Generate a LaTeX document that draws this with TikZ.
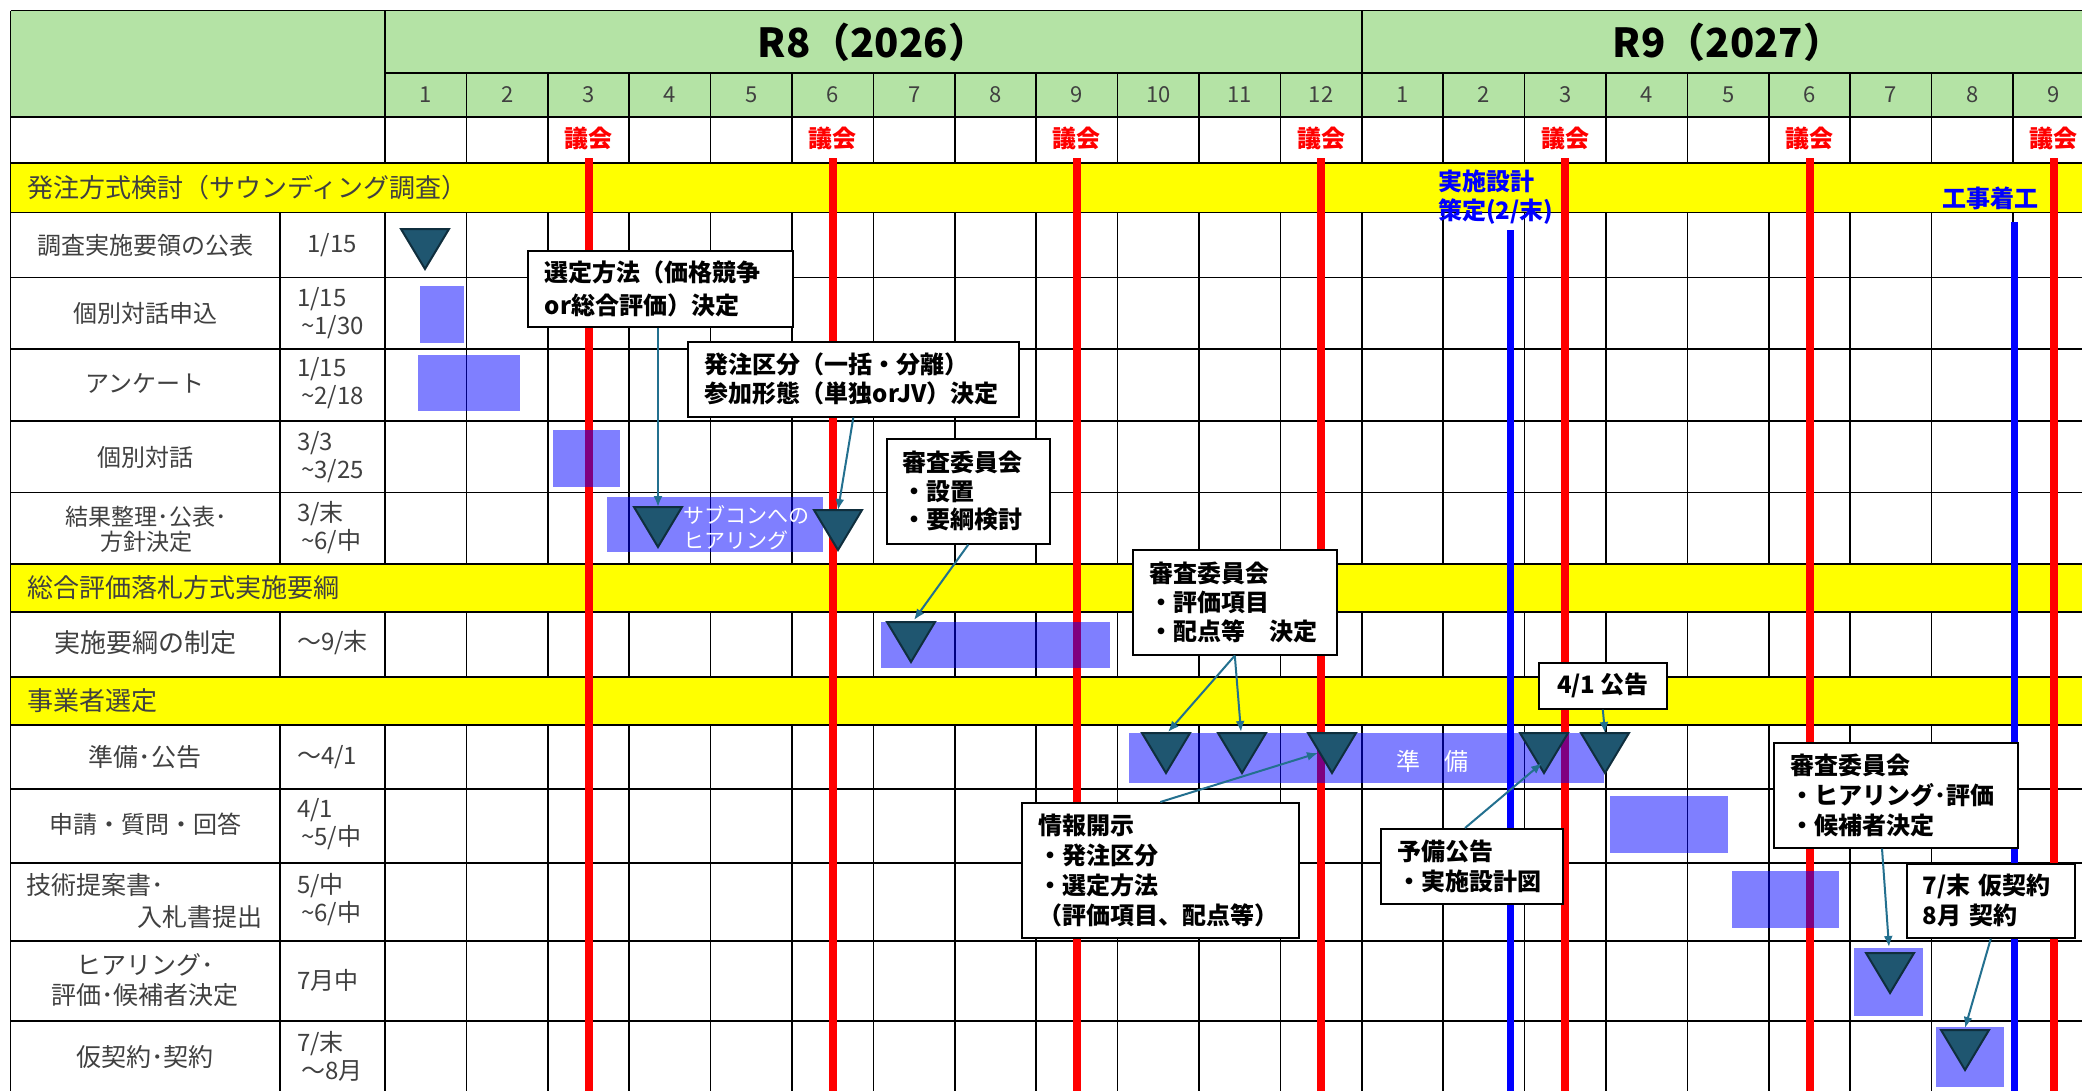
\documentclass[tikz,border=0pt]{standalone}
\usepackage{fontspec}
\setmainfont{Noto Sans CJK JP}
\usetikzlibrary{arrows.meta,calc}
\definecolor{hdrgreen}{HTML}{B4E3A5}
\definecolor{secyellow}{HTML}{FFFF00}
\definecolor{tricol}{HTML}{1F5670}
\definecolor{triedge}{HTML}{0F2E3D}
\definecolor{arrcol}{HTML}{23708F}
\definecolor{txtgray}{HTML}{404040}
\definecolor{barblue}{HTML}{0000FF}
\newcommand\mytri[3]{\coordinate (#1) at (#2,#3);
  \draw[tristyle] ($(#1)+(-24,0)$) -- ($(#1)+(24,0)$) -- ($(#1)+(0,40)$) -- cycle;}
\begin{document}
\begin{tikzpicture}[x=1pt,y=-1pt,
  gridline/.style={line width=1.6pt,black},
  redline/.style={line width=8pt,red},
  blueline/.style={line width=7pt,barblue},
  barfill/.style={fill=barblue,fill opacity=0.5},
  tristyle/.style={fill=tricol,draw=triedge,line width=2pt,line join=miter},
  callout/.style={draw=black,fill=white,line width=1.6pt,anchor=north west,align=left,
    inner xsep=17pt,inner ysep=0pt,font=\bfseries\fontsize{24pt}{30pt}\selectfont},
  callarrow/.style={draw=arrcol,line width=2pt,-{Latex[length=11pt,width=9pt]}},
  itemtxt/.style={text=txtgray,align=center,font=\fontsize{24pt}{30pt}\selectfont,inner sep=0pt},
  datetxt/.style={text=txtgray,align=left,anchor=west,font=\fontsize{24pt}{28pt}\selectfont,inner sep=0pt},
  sectxt/.style={text=txtgray,anchor=west,font=\fontsize{26pt}{30pt}\selectfont,inner sep=0pt},
  monthtxt/.style={text=txtgray,font=\fontsize{22pt}{26pt}\selectfont,inner sep=0pt},
  yeartxt/.style={font=\bfseries\fontsize{40pt}{44pt}\selectfont,inner sep=0pt},
  gikaitxt/.style={text=red,font=\bfseries\fontsize{24pt}{28pt}\selectfont,inner sep=0pt},
  bluetxt/.style={text=barblue,font=\bfseries\fontsize{24pt}{29pt}\selectfont,inner sep=0pt,align=left},
  whitetxt/.style={text=white,font=\fontsize{24pt}{25pt}\selectfont,inner sep=0pt,align=left}]
\useasboundingbox (0,0) rectangle (2082,1090);
\clip (0,0) rectangle (2082,1090);
\fill[white] (0,0) rectangle (2082,1090);
% fills
\fill[hdrgreen] (10.6,10.6) rectangle (2100,117);
\fill[secyellow] (10.6,163) rectangle (2100,212.5);
\fill[secyellow] (10.6,564) rectangle (2100,612);
\fill[secyellow] (10.6,677) rectangle (2100,725);
% grid
\begin{scope}[gridline]
\foreach \y in {10.6,117,163,212.5,277.5,349,421,492.6,564,612,677,725,789,863,941,1021}
  \draw (10.6,\y) -- (2100,\y);
\draw (385,73) -- (2100,73);
\draw (10.6,10.6) -- (10.6,1100);
\draw (385,10.6) -- (385,163);
\draw (1361.8,10.6) -- (1361.8,73);
\foreach \k in {1,...,21} \draw ({385+81.4*\k},73) -- ({385+81.4*\k},163);
\foreach \ya/\yb in {212.5/564,612/677,725/1100} {
  \draw (280,\ya) -- (280,\yb);
  \foreach \k in {0,...,21} \draw ({385+81.4*\k},\ya) -- ({385+81.4*\k},\yb);
}
\end{scope}
% council lines
\foreach \k in {2,5,8,11,14,17,20}
  \draw[redline] ({385+81.4*\k+40.7},158) -- ({385+81.4*\k+40.7},1100);
% blue milestone lines
\coordinate (bl1) at (1510,230);
\coordinate (bl2) at (2014,222);
\draw[blueline] (bl1) -- (1510,1100);
\draw[blueline] (bl2) -- (2014,1100);
% bars
\fill[barfill] (420,286) rectangle (464,343);
\fill[barfill] (418,355) rectangle (520,411);
\fill[barfill] (553,430) rectangle (620,487);
\fill[barfill] (607,497) rectangle (823,552);
\fill[barfill] (881,622) rectangle (1110,668);
\fill[barfill] (1129,733) rectangle (1604,783);
\fill[barfill] (1610,796) rectangle (1728,853);
\fill[barfill] (1732,871) rectangle (1839,928);
\fill[barfill] (1854,948) rectangle (1923,1016);
\fill[barfill] (1936,1027) rectangle (2004,1087);
% triangles
\mytri{t1}{425}{229}
\mytri{t2}{658}{507}
\mytri{t3}{838}{510}
\mytri{t4}{911}{622}
\mytri{t5}{1166}{733}
\mytri{t6}{1242}{733}
\mytri{t7}{1332}{733}
\mytri{t8}{1544}{733}
\mytri{t9}{1605}{733}
\mytri{t10}{1890}{953}
\mytri{t11}{1965}{1030}
% header texts
\node[yeartxt] (y8) at (873,42) {R8（2026）};
\node[yeartxt] (y9) at (1728,42) {R9（2027）};
\foreach \k/\m in {0/1,1/2,2/3,3/4,4/5,5/6,6/7,7/8,8/9,9/10,10/11,11/12,12/1,13/2,14/3,15/4,16/5,17/6,18/7,19/8,20/9}
  \node[monthtxt] (m\k) at ({385+81.4*\k+40.7},95) {\m};
\foreach \k in {2,5,8,11,14,17,20}
  \node[gikaitxt] (g\k) at ({385+81.4*\k+40.7},138) {議会};
% section labels
\node[sectxt] (s1) at (27,188) {発注方式検討（サウンディング調査）};
\node[sectxt] (s2) at (27,588) {総合評価落札方式実施要綱};
\node[sectxt] (s3) at (27,701) {事業者選定};
% item labels
\node[itemtxt] (i1) at (145,245) {調査実施要領の公表};
\node[itemtxt] (i2) at (145,313) {個別対話申込};
\node[itemtxt] (i3) at (145,383) {アンケート};
\node[itemtxt] (i4) at (145,457) {個別対話};
\node[itemtxt,font=\fontsize{23pt}{25pt}\selectfont] (i5) at (146,529) {結果整理･公表･\\方針決定};
\node[itemtxt,font=\fontsize{26pt}{30pt}\selectfont] (i6) at (145,643) {実施要綱の制定};
\node[itemtxt,font=\fontsize{25pt}{30pt}\selectfont] (i7) at (145,757) {準備･公告};
\node[itemtxt] (i8) at (145,824) {申請・質問・回答};
\node[itemtxt,font=\fontsize{25pt}{30pt}\selectfont,anchor=west] (i9a) at (26,885) {技術提案書･};
\node[itemtxt,font=\fontsize{25pt}{30pt}\selectfont,anchor=east] (i9b) at (263,917) {入札書提出};
\node[itemtxt,font=\fontsize{25pt}{30pt}\selectfont] (i10) at (145,980) {ヒアリング･\\評価･候補者決定};
\node[itemtxt,font=\fontsize{25pt}{30pt}\selectfont] (i11) at (145,1057) {仮契約･契約};
% dates
\node[datetxt,anchor=center] (d1) at (332,245) {1/15};
\node[datetxt] (d2) at (297,313) {1/15\\\hspace{4pt}\textasciitilde1/30};
\node[datetxt] (d3) at (297,383.5) {1/15\\\hspace{4pt}\textasciitilde2/18};
\node[datetxt] (d4) at (297,457) {3/3\\\hspace{4pt}\textasciitilde3/25};
\node[datetxt] (d5) at (297,528) {3/末\\\hspace{4pt}\textasciitilde6/中};
\node[datetxt] (d6) at (297,643) {～9/末};
\node[datetxt] (d7) at (297,757) {～4/1};
\node[datetxt] (d8) at (297,824.5) {4/1\\\hspace{4pt}\textasciitilde5/中};
\node[datetxt] (d9) at (297,899.5) {5/中\\\hspace{4pt}\textasciitilde6/中};
\node[datetxt] (d10) at (297,980) {7月中};
\node[datetxt] (d11) at (297,1056.5) {7/末\\\hspace{4pt}～8月};
% blue labels
\node[bluetxt,anchor=west] (bt1) at (1438,197.5) {実施設計\\策定(2/末)};
\node[bluetxt] (bt2) at (1990,198) {工事着工};
% white labels on bars
\node[whitetxt] (w1) at (1432,761) {準　備};
\node[whitetxt,anchor=west,font=\fontsize{21pt}{25pt}\selectfont] (w2) at (683,527.5) {サブコンへの\\ヒアリング};
% callouts
\node[callout,minimum width=265pt,minimum height=76pt,text width=231pt,font=\bfseries\fontsize{24pt}{33pt}\selectfont] (b1) at (527,250) {選定方法（価格競争\\or総合評価）決定};
\node[callout,minimum width=331pt,minimum height=75pt,text width=297pt,font=\bfseries\fontsize{24pt}{29pt}\selectfont] (b2) at (687,341) {発注区分（一括・分離）\\参加形態（単独orJV）決定};
\node[callout,inner xsep=16pt,minimum width=163pt,minimum height=105pt,text width=131pt,font=\bfseries\fontsize{24pt}{28.5pt}\selectfont] (b3) at (886,438) {審査委員会\\・設置\\・要綱検討};
\node[callout,minimum width=204pt,minimum height=105pt,text width=170pt,font=\bfseries\fontsize{24pt}{29pt}\selectfont] (b4) at (1132,549) {審査委員会\\・評価項目\\・配点等　決定};
\node[callout,minimum width=277pt,minimum height=135pt,text width=243pt] (b5) at (1021,802) {情報開示\\・発注区分\\・選定方法\\（評価項目、配点等）};
\node[callout,minimum width=182pt,minimum height=75pt,text width=148pt] (b6) at (1380,828) {予備公告\\・実施設計図};
\node[callout,align=center,inner xsep=8pt,minimum width=128pt,minimum height=46pt,text width=112pt] (b7) at (1538,662) {4/1\nobreak\hspace{5pt}\nobreak 公告};
\node[callout,minimum width=244pt,minimum height=105pt,text width=210pt] (b8) at (1773,742) {審査委員会\\・ヒアリング･評価\\・候補者決定};
\node[callout,inner xsep=16pt,minimum width=168pt,minimum height=74pt,text width=136pt] (b9) at (1906,863) {7/末 仮契約\\8月 契約};
% connectors
\draw[callarrow] (b1.south -| t2) -- (t2);
\draw[callarrow] (b2.south) -- (t3);
\draw[callarrow] (b3.south) -- ($(t4)+(3,-2)$);
\draw[callarrow] (b4.south) -- ($(t5)+(2,-1)$);
\draw[callarrow] (b4.south) -- ($(t6)+(-1,-1)$);
\draw[callarrow] (b5.north) -- ($(t7)+(-14,20)$);
\draw[callarrow] ($(b6.north west)+(85,0)$) -- ($(t8)+(-2,30)$);
\draw[callarrow] (b7.south) -- (t9);
\draw[callarrow] ($(b8.south west)+(109,0)$) -- ($(t10)+(-1,-6)$);
\draw[callarrow] (b9.south) -- ($(t11)+(0,-2)$);
\end{tikzpicture}
\end{document}
